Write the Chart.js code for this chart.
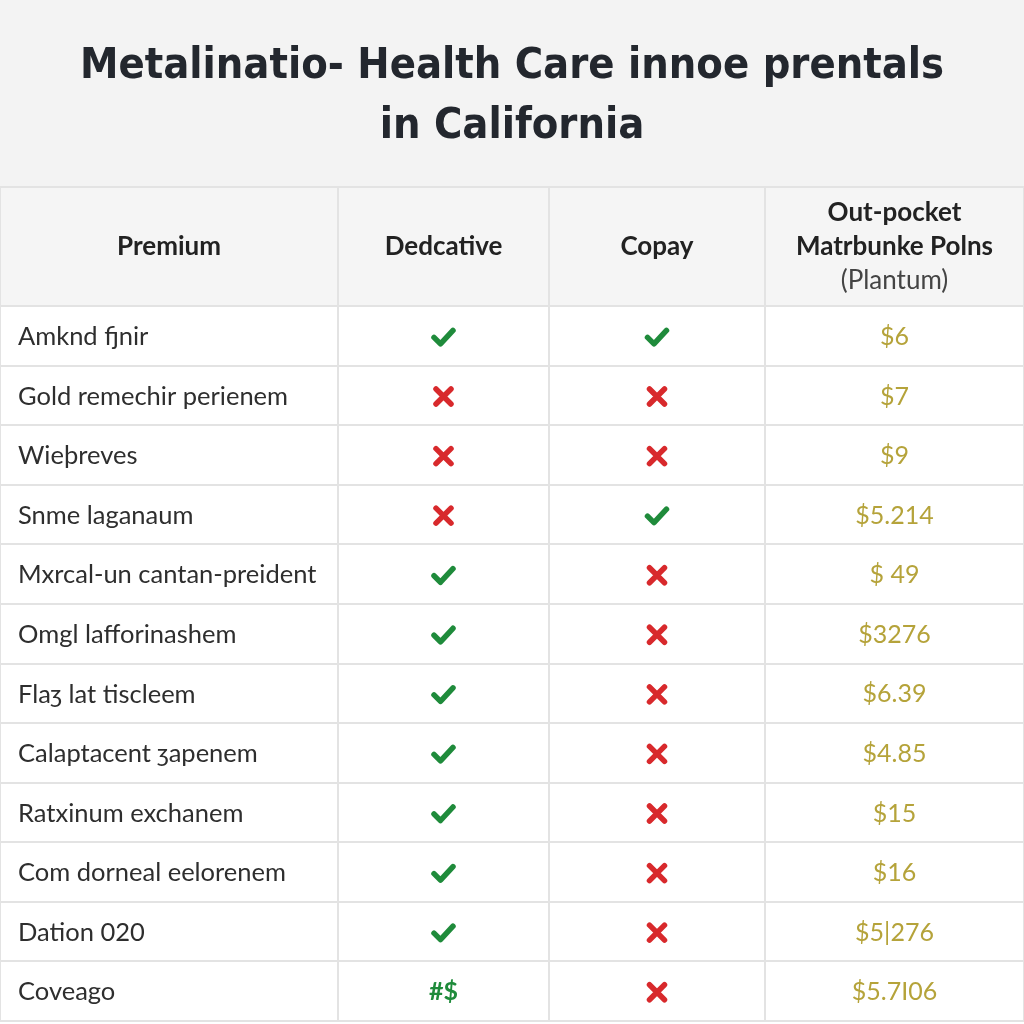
<!DOCTYPE html>
<html>
<head>
<meta charset="utf-8">
<script src="https://cdn.jsdelivr.net/npm/chart.js@4.4.1/dist/chart.umd.min.js"></script>
<style>
  html, body { margin: 0; padding: 0; background: #ffffff; }
  #wrap { width: 1024px; height: 1024px; position: relative; }
</style>
</head>
<body>
<div id="wrap"><canvas id="planChart"></canvas></div>
<script>
// table content
const titleLines = ['Metalinatio- Health Care innoe prentals', 'in California'];
const columns = ['Premium', 'Dedcative', 'Copay', ['Out-pocket', 'Matrbunke Polns', '(Plantum)']];
const rowLabels = [
    'Amknd fjnir', 'Gold remechir perienem', 'Wieþreves', 'Snme laganaum',
    'Mxrcal-un cantan-preident', 'Omgl lafforinashem', 'Flaȝ lat tiscleem',
    'Calaptacent ȝapenem', 'Ratxinum exchanem', 'Com dorneal eelorenem',
    'Dation 020', 'Coveago'
];
const deductible = ['yes', 'no', 'no', 'no', 'yes', 'yes', 'yes', 'yes', 'yes', 'yes', 'yes', '#$'];
const copay = ['yes', 'no', 'no', 'yes', 'no', 'no', 'no', 'no', 'no', 'no', 'no', 'no'];
const outOfPocket = ['$6', '$7', '$9', '$5.214', '$ 49', '$3276', '$6.39', '$4.85', '$15', '$16', '$5|276', '$5.7I06'];

// layout (column edges in px units of the x scale)
const colEdges = [0, 338, 549, 765, 1024];
const colCenter = i => (colEdges[i] + colEdges[i + 1]) / 2;

const GREEN = '#1f8b3b';
const RED = '#d8292c';
const GOLD = '#b5a33a';
const TEXT = '#2e2e2e';

const cellData = col => rowLabels.map((_, i) => ({ x: colCenter(col), y: i + 0.5 }));

function drawCheck(ctx, x, y) {
    ctx.save();
    ctx.strokeStyle = GREEN;
    ctx.lineWidth = 5.5;
    ctx.lineCap = 'round';
    ctx.lineJoin = 'round';
    ctx.beginPath();
    ctx.moveTo(x - 9.5, y + 0.5);
    ctx.lineTo(x - 3, y + 7);
    ctx.lineTo(x + 9.5, y - 6.5);
    ctx.stroke();
    ctx.restore();
}

function drawCross(ctx, x, y) {
    ctx.save();
    ctx.strokeStyle = RED;
    ctx.lineWidth = 5.5;
    ctx.lineCap = 'round';
    ctx.beginPath();
    ctx.moveTo(x - 7.5, y - 7.5);
    ctx.lineTo(x + 7.5, y + 7.5);
    ctx.moveTo(x + 7.5, y - 7.5);
    ctx.lineTo(x - 7.5, y + 7.5);
    ctx.stroke();
    ctx.restore();
}

function drawMark(ctx, v, x, y) {
    if (v === 'yes') drawCheck(ctx, x, y);
    else if (v === 'no') drawCross(ctx, x, y);
    else {
        ctx.fillStyle = GREEN;
        ctx.font = 'bold 25px Lato, sans-serif';
        ctx.textAlign = 'center';
        ctx.textBaseline = 'middle';
        ctx.fillText(v, x, y);
    }
}

const tablePlugin = {
    id: 'tablePlugin',
    beforeDraw(chart) {
        const { ctx, chartArea, scales } = chart;
        ctx.save();
        ctx.fillStyle = '#ffffff';
        ctx.fillRect(0, 0, chart.width, chart.height);
        ctx.fillStyle = '#f3f3f3';
        ctx.fillRect(0, 0, chart.width, chartArea.top);
        ctx.fillStyle = '#f5f5f5';
        const hTop = scales.y.getPixelForValue(-2);
        const hBot = scales.y.getPixelForValue(0);
        ctx.fillRect(chartArea.left, hTop, chartArea.width, hBot - hTop);
        ctx.restore();
    },
    afterDatasetsDraw(chart) {
        const { ctx, scales } = chart;
        ctx.save();
        // header labels
        const hy = scales.y.getPixelForValue(-1);
        columns.forEach((c, i) => {
            const x = scales.x.getPixelForValue(colCenter(i));
            ctx.textAlign = 'center';
            ctx.textBaseline = 'middle';
            if (Array.isArray(c)) {
                c.forEach((line, k) => {
                    ctx.font = (k < 2 ? 'bold ' : '') + '26px Lato, sans-serif';
                    ctx.fillStyle = k < 2 ? '#222222' : '#444444';
                    ctx.fillText(line, x, hy + (k - 1) * 34);
                });
            } else {
                ctx.font = 'bold 26px Lato, sans-serif';
                ctx.fillStyle = '#222222';
                ctx.fillText(c, x, hy);
            }
        });
        // body cells
        const metas = chart.data.datasets.map((_, i) => chart.getDatasetMeta(i));
        rowLabels.forEach((label, r) => {
            const p0 = metas[0].data[r];
            ctx.font = '25.5px Lato, sans-serif';
            ctx.fillStyle = TEXT;
            ctx.textAlign = 'left';
            ctx.textBaseline = 'middle';
            ctx.fillText(label, scales.x.getPixelForValue(colEdges[0]) + 18, p0.y + 1);

            const p1 = metas[1].data[r];
            drawMark(ctx, deductible[r], p1.x, p1.y + 1);
            const p2 = metas[2].data[r];
            drawMark(ctx, copay[r], p2.x, p2.y + 1);

            const p3 = metas[3].data[r];
            ctx.font = '25px Lato, sans-serif';
            ctx.fillStyle = GOLD;
            ctx.textAlign = 'center';
            ctx.fillText(outOfPocket[r], p3.x, p3.y + 1);
        });
        ctx.restore();
    }
};

const ctx = document.getElementById('planChart').getContext('2d');
const chart = new Chart(ctx, {
    type: 'scatter',
    data: {
        datasets: [
            { label: 'Premium', data: cellData(0), pointRadius: 0 },
            { label: 'Deductible', data: cellData(1), pointRadius: 0 },
            { label: 'Copay', data: cellData(2), pointRadius: 0 },
            { label: 'Out-pocket', data: cellData(3), pointRadius: 0 }
        ]
    },
    options: {
        responsive: true,
        maintainAspectRatio: false,
        animation: false,
        events: [],
        layout: { padding: { left: 0, right: 0, top: 0, bottom: 3 } },
        plugins: {
            legend: { display: false },
            tooltip: { enabled: false },
            title: {
                display: true,
                text: titleLines,
                color: '#23272e',
                font: { family: "'DejaVu Sans Condensed', Lato, sans-serif", size: 43, weight: 'bold', lineHeight: 60 / 43 },
                padding: { top: 37, bottom: 30 }
            }
        },
        scales: {
            x: {
                type: 'linear',
                min: colEdges[0],
                max: colEdges[colEdges.length - 1],
                afterBuildTicks: scale => { scale.ticks = colEdges.map(v => ({ value: v })); },
                afterFit: scale => { scale.height = 0; },
                ticks: { display: false },
                border: { display: false },
                grid: { color: '#e3e3e3', lineWidth: 2, drawTicks: false }
            },
            y: {
                type: 'linear',
                reverse: true,
                min: -2,
                max: rowLabels.length,
                afterBuildTicks: scale => {
                    scale.ticks = [-2].concat(rowLabels.map((_, i) => i), [rowLabels.length]).map(v => ({ value: v }));
                },
                afterFit: scale => { scale.width = 0; },
                ticks: { display: false },
                border: { display: false },
                grid: { color: '#e3e3e3', lineWidth: 2, drawTicks: false }
            }
        }
    },
    plugins: [tablePlugin]
});
</script>
</body>
</html>
